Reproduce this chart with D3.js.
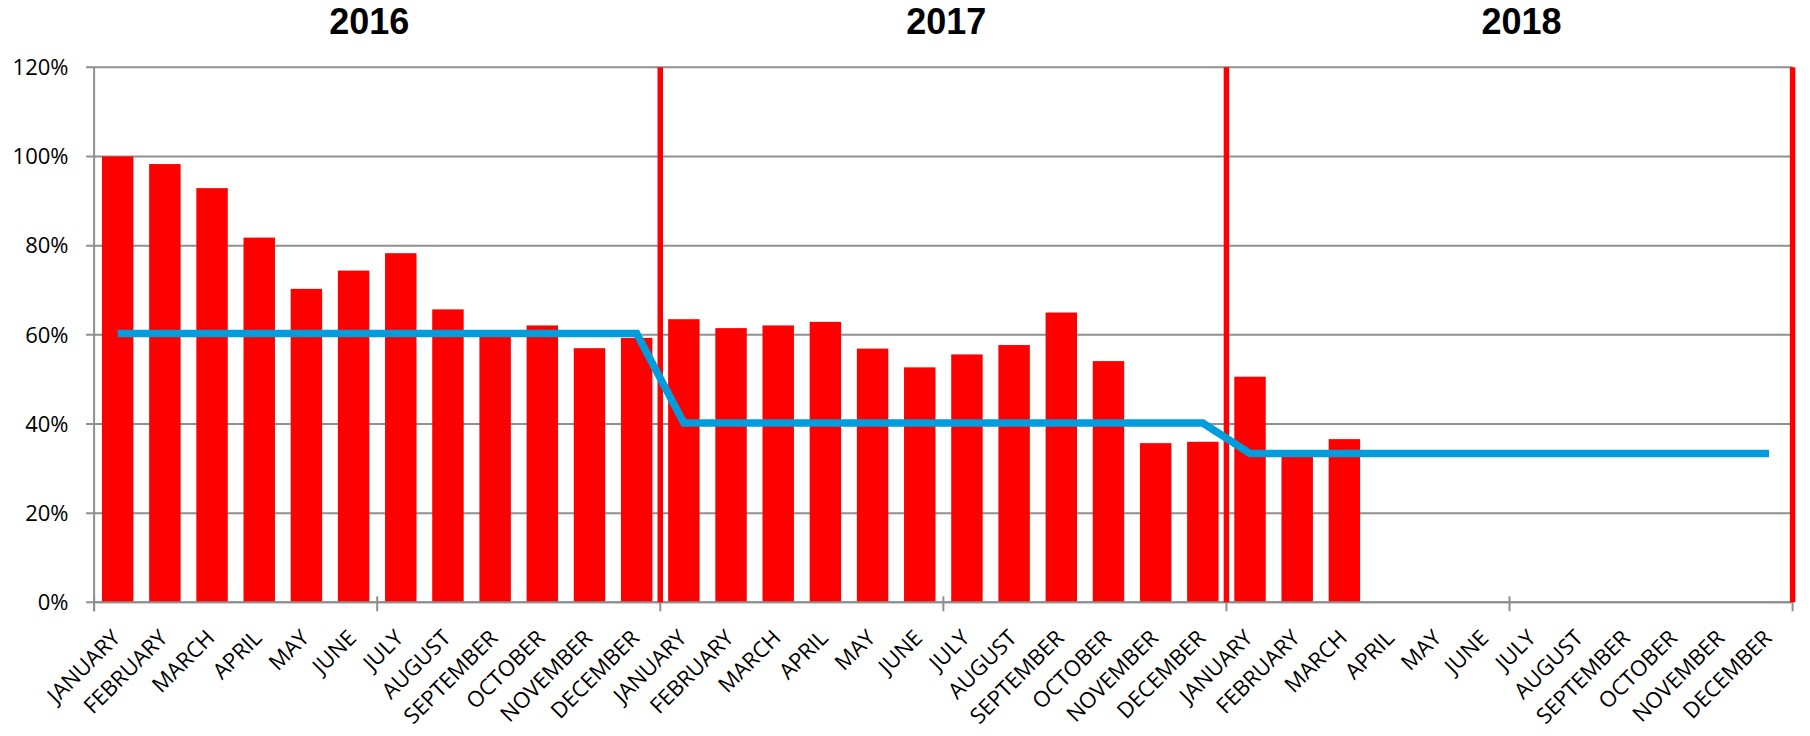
<!DOCTYPE html>
<html>
<head>
<meta charset="utf-8">
<script src="https://cdn.jsdelivr.net/npm/d3@7"></script>
<style>
  html, body { margin: 0; padding: 0; background: #ffffff; }
  svg { display: block; }
</style>
</head>
<body>
<svg id="chart" width="1810" height="736"></svg>
<script>
// ---------- DATA ----------
const years = ["2016", "2017", "2018"];
const months = ["JANUARY", "FEBRUARY", "MARCH", "APRIL", "MAY", "JUNE",
                "JULY", "AUGUST", "SEPTEMBER", "OCTOBER", "NOVEMBER", "DECEMBER"];
const bars2016 = [100, 98.3, 92.9, 81.8, 70.3, 74.4, 78.3, 65.7, 60.0, 62.1, 57.0, 59.3];
const bars2017 = [63.5, 61.5, 62.1, 62.9, 56.9, 52.7, 55.6, 57.7, 65.0, 54.1, 35.7, 36.0];
const bars2018 = [50.6, 33.0, 36.6, null, null, null, null, null, null, null, null, null];
const line2016 = [60.3, 60.3, 60.3, 60.3, 60.3, 60.3, 60.3, 60.3, 60.3, 60.3, 60.3, 60.3];
const line2017 = [40.2, 40.2, 40.2, 40.2, 40.2, 40.2, 40.2, 40.2, 40.2, 40.2, 40.2, 40.2];
const line2018 = [33.4, 33.4, 33.4, 33.4, 33.4, 33.4, 33.4, 33.4, 33.4, 33.4, 33.4, 33.4];
const yTicks = [0, 20, 40, 60, 80, 100, 120];

// ---------- BUILD ----------
const barSeries = [bars2016, bars2017, bars2018];
const lineSeries = [line2016, line2017, line2018];
const cats = [];
years.forEach((yr, yi) => months.forEach((m, mi) => {
  cats.push({ key: yr + "-" + m, year: yr, month: m, idx: yi * 12 + mi,
              bar: barSeries[yi][mi], line: lineSeries[yi][mi] });
}));

const svg = d3.select("#chart");
const X0 = 94.1, X1 = 1792.6, Y0 = 602.3, Y1 = 67.3;
const FONT = "'Open Sans', 'DejaVu Sans', sans-serif";

const x = d3.scaleBand()
  .domain(cats.map(d => d.key))
  .range([X0, X1])
  .paddingInner(1 / 3)
  .paddingOuter(1 / 6);
const step = x.step();
const y = d3.scaleLinear().domain([0, 120]).range([Y0, Y1]);

const GRID = "#8f8f8f";

// gridlines (with outward y ticks)
svg.append("g")
  .selectAll("line")
  .data(yTicks)
  .join("line")
  .attr("x1", X0 - 8)
  .attr("x2", X1)
  .attr("y1", d => y(d))
  .attr("y2", d => y(d))
  .attr("stroke", GRID)
  .attr("stroke-width", 2);

// y axis line
svg.append("line")
  .attr("x1", X0).attr("x2", X0)
  .attr("y1", y(120)).attr("y2", y(0) + 9)
  .attr("stroke", GRID).attr("stroke-width", 2);

// y labels
svg.append("g")
  .selectAll("text")
  .data(yTicks)
  .join("text")
  .attr("x", 68.5)
  .attr("y", d => y(d))
  .attr("dy", "0.357em")
  .attr("text-anchor", "end")
  .attr("font-family", FONT)
  .attr("font-size", 22)
  .attr("fill", "#000")
  .text(d => d + "%");

// bars
svg.append("g")
  .selectAll("rect")
  .data(cats.filter(d => d.bar != null))
  .join("rect")
  .attr("x", d => x(d.key))
  .attr("width", x.bandwidth())
  .attr("y", d => y(d.bar))
  .attr("height", d => y(0) - y(d.bar))
  .attr("fill", "#ff0000");

// x axis line
svg.append("line")
  .attr("x1", X0).attr("x2", X1)
  .attr("y1", y(0)).attr("y2", y(0))
  .attr("stroke", GRID).attr("stroke-width", 2);

// x ticks every 6 categories (cross)
const tickIdx = d3.range(0, 37, 6);
svg.append("g")
  .selectAll("line")
  .data(tickIdx)
  .join("line")
  .attr("x1", i => X0 + i * step)
  .attr("x2", i => X0 + i * step)
  .attr("y1", y(0) - 6)
  .attr("y2", y(0) + 9)
  .attr("stroke", GRID)
  .attr("stroke-width", 2);

// year separators (red vertical lines)
svg.append("g")
  .selectAll("line")
  .data(years)
  .join("line")
  .attr("x1", (d, i) => X0 + (i + 1) * 12 * step)
  .attr("x2", (d, i) => X0 + (i + 1) * 12 * step)
  .attr("y1", y(120))
  .attr("y2", y(0))
  .attr("stroke", "#ff0000")
  .attr("stroke-width", 5.5);

// line series
const lineGen = d3.line()
  .x(d => x(d.key) + x.bandwidth() / 2)
  .y(d => y(d.line));
svg.append("path")
  .datum(cats)
  .attr("d", lineGen)
  .attr("fill", "none")
  .attr("stroke", "#009ddc")
  .attr("stroke-width", 7.5)
  .attr("stroke-linejoin", "miter");

// month labels rotated
svg.append("g")
  .selectAll("text")
  .data(cats)
  .join("text")
  .attr("transform", d => {
    const cx = x(d.key) + x.bandwidth() / 2 + 4;
    const cy = y(0) + 37;
    return `translate(${cx},${cy}) rotate(-45)`;
  })
  .attr("text-anchor", "end")
  .attr("font-family", FONT)
  .attr("font-size", 22)
  .attr("fill", "#000")
  .text(d => d.month);

// year titles
const titleShift = [-8, 3, 12];
svg.append("g")
  .selectAll("text")
  .data(years)
  .join("text")
  .attr("x", (d, i) => X0 + (i * 12 + 6) * step + titleShift[i])
  .attr("y", 34)
  .attr("text-anchor", "middle")
  .attr("font-family", "'Liberation Sans', Arial, sans-serif")
  .attr("font-weight", "bold")
  .attr("font-size", 36)
  .attr("fill", "#000")
  .text(d => d);
</script>
</body>
</html>
